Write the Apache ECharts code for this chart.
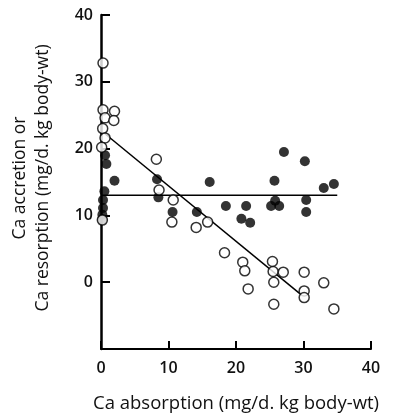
<!DOCTYPE html>
<html>
<head>
<meta charset="utf-8">
<script src="https://cdn.jsdelivr.net/npm/echarts@6/dist/echarts.min.js"></script>
<style>
html,body{margin:0;padding:0;background:#fff;}
#c{width:397px;height:418px;}
</style>
</head>
<body>
<div id="c"></div>
<script>
// Accretion (filled circles): [Ca absorption, Ca accretion]
var accretion = [
  [0.6,19.0],[0.8,17.7],[2.0,15.2],[0.5,13.6],[0.3,12.3],[0.3,11.1],[0.2,10.1],[0.2,9.4],
  [8.3,15.4],[8.5,12.7],[10.6,10.5],[14.2,10.5],[16.1,15.0],[18.5,11.4],[20.8,9.5],
  [21.5,11.4],[22.1,8.9],[25.7,15.2],[27.1,19.5],[30.2,18.1],[25.2,11.4],[26.4,11.4],
  [25.8,12.2],[30.4,12.3],[30.4,10.5],[33.0,14.1],[34.5,14.7]
];
// Resorption (open circles): [Ca absorption, Ca resorption]
var resorption = [
  [0.3,32.8],[0.3,25.8],[2.0,25.6],[0.6,24.6],[1.9,24.2],[0.25,23.0],[0.6,21.6],[0.1,20.2],[0.2,9.3],
  [8.2,18.4],[8.6,13.8],[10.7,12.3],[10.5,9.0],[14.1,8.2],[15.8,9.0],[18.3,4.4],
  [21.0,3.0],[21.3,1.7],[21.8,-1.0],[25.4,3.1],[25.5,1.6],[27.0,1.5],[25.6,0],[25.6,-3.3],
  [30.1,1.5],[30.1,-1.3],[30.1,-2.3],[33.0,-0.1],[34.5,-4.0]
];
// Fitted lines
var accretionLine = [[0,13.0],[35,13.0]];
var resorptionLine = [[0.5,22.3],[29.5,-1.75]];
var xTicks = [0,10,20,30,40];
var yTicks = [0,10,20,30,40];
var xTitle = 'Ca absorption (mg/d. kg body-wt)';
var yTitle1 = 'Ca accretion or';
var yTitle2 = 'Ca resorption (mg/d. kg body-wt)';

var FONT = 'Open Sans';
var chart = echarts.init(document.getElementById('c'));
chart.setOption({
  animation: false,
  backgroundColor: '#fff',
  grid: {left: 101, right: 26, top: 15, bottom: 64},
  xAxis: {
    type: 'value', min: 0, max: 40, interval: 10,
    name: xTitle, nameLocation: 'middle', nameGap: 45,
    nameTextStyle: {fontFamily: FONT, fontSize: 18.5, color: '#111', verticalAlign: 'top'},
    axisLine: {onZero: false, lineStyle: {color: '#000', width: 2}},
    axisTick: {inside: true, length: 8, lineStyle: {color: '#000', width: 2}},
    axisLabel: {margin: 11, fontFamily: FONT, fontSize: 16, fontWeight: 600, color: '#111',
      formatter: function(v){ return xTicks.indexOf(v) >= 0 ? String(v) : ''; }},
    splitLine: {show: false}
  },
  yAxis: {
    type: 'value', min: -10, max: 40, interval: 10,
    axisLine: {onZero: false, lineStyle: {color: '#000', width: 2.5}},
    axisTick: {inside: true, length: 9, lineStyle: {color: '#000', width: 2}},
    axisLabel: {margin: 8, fontFamily: FONT, fontSize: 16, fontWeight: 600, color: '#111',
      formatter: function(v){ return yTicks.indexOf(v) >= 0 ? String(v) : ''; }},
    splitLine: {show: false}
  },
  graphic: [
    {type: 'text', x: 20, y: 178, rotation: Math.PI/2,
     style: {text: yTitle1, fontFamily: FONT, fontSize: 17.5, fill: '#111', textAlign: 'center', textVerticalAlign: 'middle'}},
    {type: 'text', x: 43, y: 178, rotation: Math.PI/2,
     style: {text: yTitle2, fontFamily: FONT, fontSize: 17.5, fill: '#111', textAlign: 'center', textVerticalAlign: 'middle'}}
  ],
  series: [
    {type: 'line', data: accretionLine, symbol: 'none', lineStyle: {color: '#000', width: 1.5}, z: 1},
    {type: 'line', data: resorptionLine, symbol: 'none', lineStyle: {color: '#000', width: 1.5}, z: 1},
    {type: 'scatter', data: accretion, symbol: 'circle', symbolSize: 10,
     itemStyle: {color: '#000'}, z: 3},
    {type: 'scatter', data: resorption, symbol: 'circle', symbolSize: 10,
     itemStyle: {color: '#fff', borderColor: '#000', borderWidth: 1.5}, z: 3}
  ]
});
</script>
</body>
</html>
